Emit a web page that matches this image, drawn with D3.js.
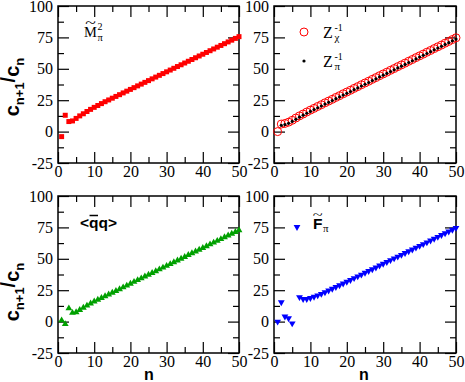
<!DOCTYPE html>
<html>
<head>
<meta charset="utf-8">
<script src="https://cdn.jsdelivr.net/npm/d3@7.9.0/dist/d3.min.js"></script>
<style>
  body { margin: 0; background: #fff; }
  svg { display: block; }
  .tick text { font-family: "Liberation Serif", "Times New Roman", serif; }
</style>
</head>
<body>
<svg id="chart" width="465" height="382"></svg>
<script>
// n = 1..50 (series index)
const nValues = d3.range(1, 51);

// M~_pi^2 (red squares)
const mpi2 = [-4, 13, 8, 8.5, 10.5, 12.5, 14.2, 16, 17.7, 19.3,
  20.8, 22.3, 23.8, 25.2, 26.6, 28, 29.4, 30.8, 32.2, 33.6,
  35, 36.4, 37.8, 39.2, 40.6, 42, 43.4, 44.8, 46.2, 47.6,
  49, 50.4, 51.8, 53.2, 54.6, 56, 57.4, 58.8, 60.2, 61.6,
  63, 64.4, 65.8, 67.2, 68.6, 70, 71.4, 72.8, 74.2, 75.6];

// Z_chi^-1 (red open circles)
const zchi = [0, 6, 6.5, 7.5, 9, 10.8, 12.5, 14, 15.6, 17.1,
  18.5, 20, 21.4, 22.9, 24.3, 25.7, 27.2, 28.6, 30.1, 31.5,
  32.9, 34.4, 35.8, 37.3, 38.7, 40.1, 41.6, 43, 44.5, 45.9,
  47.3, 48.8, 50.2, 51.7, 53.1, 54.5, 56, 57.4, 58.9, 60.3,
  61.7, 63.2, 64.6, 66.1, 67.5, 68.9, 70.4, 71.8, 73.3, 74.7];

// Z_pi^-1 (black dots)
const zpi = [null, 5, 5.6, 6.6, 8.1, 9.8, 11.5, 13.1, 14.6, 16.1,
  17.5, 19, 20.4, 21.9, 23.3, 24.7, 26.2, 27.6, 29.1, 30.5,
  31.9, 33.4, 34.8, 36.3, 37.7, 39.1, 40.6, 42, 43.5, 44.9,
  46.3, 47.8, 49.2, 50.7, 52.1, 53.5, 55, 56.4, 57.9, 59.3,
  60.7, 62.2, 63.6, 65.1, 66.5, 67.9, 69.4, 70.8, 72.3, 73.7];

// <qbar q> (green up triangles)
const qq = [1, -2, 10.5, 7, 7.5, 9.3, 11, 12.7, 14.4, 16,
  17.4, 18.8, 20.2, 21.6, 23, 24.4, 25.8, 27.3, 28.7, 30.2,
  31.6, 33, 34.4, 35.9, 37.3, 38.7, 40.1, 41.6, 43, 44.4,
  45.8, 47.3, 48.7, 50.1, 51.5, 53, 54.4, 55.8, 57.2, 58.6,
  60, 61.5, 62.9, 64.3, 65.7, 67.2, 68.6, 70, 71.4, 72.8];

// F~_pi (blue down triangles)
const fpi = [0, 15.4, 4, 2.6, -1.4, null, 19.5, 18, 18, 18.8,
  19.8, 20.9, 22.1, 23.4, 24.7, 26.1, 27.5, 28.9, 30.3, 31.7,
  33.1, 34.6, 36, 37.4, 38.9, 40.3, 41.7, 43.1, 44.6, 46,
  47.4, 48.9, 50.3, 51.7, 53.1, 54.6, 56, 57.4, 58.9, 60.3,
  61.7, 63.1, 64.6, 66, 67.4, 68.9, 70.3, 71.7, 73.1, 74.6];

const xTicks = [0, 10, 20, 30, 40, 50];
const xMinor = [5, 15, 25, 35, 45];
const yTicks = [-25, 0, 25, 50, 75, 100];
const yMinor = [-12.5, 12.5, 37.5, 62.5, 87.5];

const serif = "Liberation Serif, Times New Roman, serif";
const sans = "Liberation Sans, Arial, sans-serif";

const svg = d3.select("#chart");

function addAxis(axisFn, scale, tx, ty, values, size, pad) {
  const a = axisFn(scale)
    .tickValues(values)
    .tickSizeInner(-size)
    .tickSizeOuter(0)
    .tickPadding(pad == null ? 0 : pad)
    .tickFormat(pad == null ? "" : (d) => String(d));
  const g = svg.append("g").attr("transform", `translate(${tx},${ty})`).call(a);
  g.attr("font-family", serif).attr("font-size", 16);
  g.select(".domain").remove();
  g.selectAll("line").attr("stroke", "#000").attr("stroke-width", 1.2);
  g.selectAll("text").attr("fill", "#000");
  return g;
}

function makePanel(left, right, top, bottom) {
  const x = d3.scaleLinear().domain([0, 50]).range([left, right]);
  const y = d3.scaleLinear().domain([-25, 100]).range([bottom, top]);

  // major + minor ticks, inward on all four sides
  addAxis(d3.axisLeft, y, left, 0, yTicks, 11, 5);
  addAxis(d3.axisLeft, y, left, 0, yMinor, 6);
  addAxis(d3.axisRight, y, right, 0, yTicks, 11);
  addAxis(d3.axisRight, y, right, 0, yMinor, 6);
  addAxis(d3.axisBottom, x, 0, bottom, xTicks, 11, 3);
  addAxis(d3.axisBottom, x, 0, bottom, xMinor, 6);
  addAxis(d3.axisTop, x, 0, top, xTicks, 11);
  addAxis(d3.axisTop, x, 0, top, xMinor, 6);

  svg.append("rect")
    .attr("x", left).attr("y", top)
    .attr("width", right - left).attr("height", bottom - top)
    .attr("fill", "none").attr("stroke", "#000").attr("stroke-width", 1.5);

  return { x, y };
}

function seriesPoints(values) {
  return nValues.map((n, i) => ({ n, v: values[i] })).filter((d) => d.v != null);
}

function drawSymbols(p, values, type, size, color, rotate) {
  svg.append("g").selectAll("path")
    .data(seriesPoints(values))
    .join("path")
    .attr("d", d3.symbol(type, size))
    .attr("transform", (d) => `translate(${p.x(d.n)},${p.y(d.v)})` + (rotate ? " rotate(180)" : ""))
    .attr("fill", color);
}

// tilde drawn above a letter
function addTilde(textNode, size) {
  const b = textNode.getBBox();
  svg.append("text")
    .attr("transform", `translate(${b.x + b.width / 2},${b.y + 4}) scale(1.4,1)`)
    .attr("text-anchor", "middle")
    .attr("font-family", serif)
    .attr("font-size", size)
    .text("~");
}

function yLabel(cx, cy) {
  const t = svg.append("text")
    .attr("transform", `translate(${cx},${cy}) rotate(-90)`)
    .attr("text-anchor", "middle")
    .attr("font-family", sans)
    .attr("font-weight", "bold")
    .attr("font-size", 20);
  t.append("tspan").text("c");
  t.append("tspan").attr("font-size", 13).attr("dy", 5).text("n+1");
  t.append("tspan").attr("dy", -9).text("/");
  t.append("tspan").attr("dy", 4).text("c");
  t.append("tspan").attr("font-size", 13).attr("dy", 5).text("n");
}

function xLabel(cx) {
  svg.append("text")
    .attr("x", cx).attr("y", 380)
    .attr("text-anchor", "middle")
    .attr("font-family", sans)
    .attr("font-weight", "bold")
    .attr("font-size", 16)
    .text("n");
}

// ---- top-left: M~_pi^2
const pTL = makePanel(58, 239, 6, 163);
drawSymbols(pTL, mpi2, d3.symbolSquare, 25, "#ff0000");
const mText = svg.append("text")
  .attr("x", 84).attr("y", 37)
  .attr("font-family", serif).attr("font-size", 14.5)
  .text("M");
addTilde(mText.node(), 14);
{
  const b = mText.node().getBBox();
  svg.append("text").attr("x", b.x + b.width + 0.5).attr("y", 41)
    .attr("font-family", serif).attr("font-size", 10.5).text("π");
  svg.append("text").attr("x", b.x + b.width + 0.5).attr("y", 30)
    .attr("font-family", serif).attr("font-size", 10).text("2");
}

// ---- top-right: Z_chi^-1 and Z_pi^-1
const pTR = makePanel(274, 456, 6, 163);
svg.append("g").selectAll("circle")
  .data(seriesPoints(zchi))
  .join("circle")
  .attr("cx", (d) => pTR.x(d.n))
  .attr("cy", (d) => pTR.y(d.v))
  .attr("r", 4)
  .attr("fill", "none")
  .attr("stroke", "#ff0000")
  .attr("stroke-width", 1);
svg.append("g").selectAll("circle")
  .data(seriesPoints(zpi))
  .join("circle")
  .attr("cx", (d) => pTR.x(d.n))
  .attr("cy", (d) => pTR.y(d.v))
  .attr("r", 1.6)
  .attr("fill", "#000");

svg.append("circle").attr("cx", 304).attr("cy", 32).attr("r", 4)
  .attr("fill", "none").attr("stroke", "#ff0000").attr("stroke-width", 1);
svg.append("circle").attr("cx", 304).attr("cy", 61).attr("r", 1.6).attr("fill", "#000");

[["χ", 38], ["π", 67]].forEach(([sub, base]) => {
  svg.append("text").attr("x", 323).attr("y", base)
    .attr("font-family", serif).attr("font-size", 16).text("Z");
  svg.append("text").attr("x", 334.5).attr("y", base - 7)
    .attr("font-family", serif).attr("font-size", 10).text("-1");
  svg.append("text").attr("x", 334.5).attr("y", base + 3)
    .attr("font-family", serif).attr("font-size", 11).text(sub);
});

// ---- bottom-left: <qbar q>
const pBL = makePanel(58, 239, 196, 353);
drawSymbols(pBL, qq, d3.symbolTriangle, 20, "#00a000");
{
  const t = svg.append("text")
    .attr("x", 80).attr("y", 228)
    .attr("font-family", sans).attr("font-weight", "bold").attr("font-size", 15.5)
    .text("<qq>");
  const node = t.node();
  const s = node.getStartPositionOfChar(1);
  const e = node.getEndPositionOfChar(1);
  svg.append("line")
    .attr("x1", s.x + 0.5).attr("x2", e.x - 0.5)
    .attr("y1", 215.5).attr("y2", 215.5)
    .attr("stroke", "#000").attr("stroke-width", 1.5);
}

// ---- bottom-right: F~_pi
const pBR = makePanel(274, 456, 196, 353);
drawSymbols(pBR, fpi, d3.symbolTriangle, 20, "#0000ff", true);
svg.append("path")
  .attr("d", d3.symbol(d3.symbolTriangle, 20))
  .attr("transform", "translate(297,227) rotate(180)")
  .attr("fill", "#0000ff");
{
  const f = svg.append("text")
    .attr("x", 313).attr("y", 229)
    .attr("font-family", sans).attr("font-weight", "bold").attr("font-size", 15.5)
    .text("F");
  addTilde(f.node(), 13);
  const b = f.node().getBBox();
  svg.append("text").attr("x", b.x + b.width + 0.5).attr("y", 232)
    .attr("font-family", serif).attr("font-size", 11).text("π");
}

// axis titles
yLabel(19, 87);
yLabel(19, 292);
xLabel(149);
xLabel(364);
</script>
</body>
</html>
